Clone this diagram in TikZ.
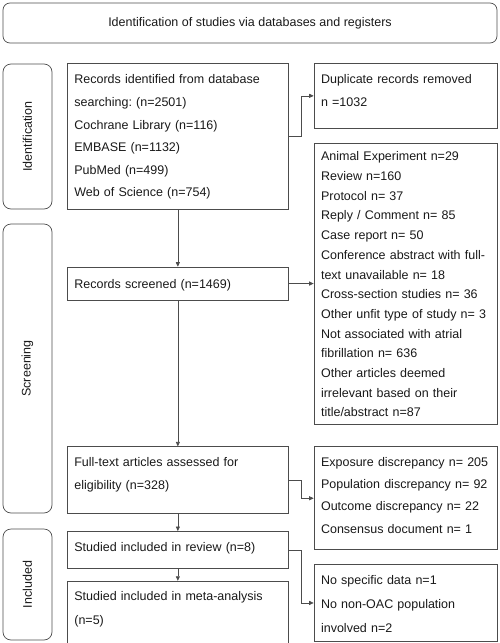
\documentclass[tikz,border=0pt]{standalone}
\usepackage{fontspec}
\setmainfont{Liberation Sans}
\usepackage{tikz}
\usetikzlibrary{arrows.meta, positioning}
\frenchspacing

\begin{document}
\begin{tikzpicture}[
    x=1pt, y=1pt,
    every node/.style={text=black!90},
    header/.style={rectangle, draw=black!70, line width=0.7pt, rounded corners=7pt,
                  minimum width=494pt, minimum height=40pt, font=\fontsize{12.5}{15}\selectfont},
    stage/.style={rectangle, draw=black!70, line width=0.7pt, rounded corners=8pt, rotate=90,
                  minimum height=49pt, inner sep=0pt, font=\fontsize{12.5}{15}\selectfont},
    box/.style={rectangle, draw=black!70, line width=0.7pt, inner xsep=7pt, inner ysep=0pt,
                align=left, font=\fontsize{12.5}{23}\selectfont},
    mainbox/.style={box, text width=207pt},
    exclbox/.style={box, text width=169pt},
    arrow/.style={-{Triangle[length=4.5pt, width=4pt]}, draw=black!70, line width=0.7pt},
]
\useasboundingbox (0,0) rectangle (500,-643);

% Header
\node[header] (head) at (250,-23) {Identification of studies via databases and registers};

% Stages
\node[stage, minimum width=145pt] (sident) at (27.5,-136.5) {Identification};
\node[stage, minimum width=289pt] (sscreen) at (27.5,-368.5) {Screening};
\node[stage, minimum width=111pt] (sincl) at (27.5,-584.5) {Included};

% Main column
\node[mainbox, anchor=north west, text height=20.5pt, text depth=125.5pt,
      font=\fontsize{12.5}{22.6}\selectfont] (ident) at (67,-63)
      {Records identified from database\\searching: (n=2501)\\Cochrane Library (n=116)\\EMBASE (n=1132)\\PubMed (n=499)\\Web of Science (n=754)};
\node[mainbox, below=57pt of ident, text height=21.5pt, text depth=11.5pt] (screen)
      {Records screened (n=1469)};
\node[mainbox, below=146pt of screen, text height=19.5pt, text depth=47.5pt] (full)
      {Full-text articles assessed for\\eligibility (n=328)};
\node[mainbox, below=17pt of full, text height=20.5pt, text depth=16.5pt] (review)
      {Studied included in review (n=8)};
\node[mainbox, below=12pt of review, text height=19.5pt, text depth=42.5pt,
      font=\fontsize{12.5}{23.7}\selectfont] (meta)
      {Studied included in meta-analysis\\(n=5)};

% Excluded column
\node[exclbox, below right=0pt and 25pt of ident.north east, text height=20.5pt, text depth=44.5pt] (dup)
      {Duplicate records removed\\n =1032};
\node[exclbox, below=14pt of dup, text height=17.8pt, text depth=263.2pt,
      font=\fontsize{12.5}{19.7}\selectfont] (excl1)
      {Animal Experiment n=29\\Review n=160\\Protocol n= 37\\Reply / Comment n= 85\\Case report n= 50\\Conference abstract with full-\\text unavailable n= 18\\Cross-section studies n= 36\\Other unfit type of study n= 3\\Not associated with atrial\\fibrillation n= 636\\Other articles deemed\\irrelevant based on their\\title/abstract n=87};
\node[exclbox, below right=0pt and 25pt of full.north east, text height=19.5pt, text depth=83.5pt,
      font=\fontsize{12.5}{22.3}\selectfont] (excl2)
      {Exposure discrepancy n= 205\\Population discrepancy n= 92\\Outcome discrepancy n= 22\\Consensus document n= 1};
\node[exclbox, below=14pt of excl2, text height=20.5pt, text depth=56.5pt,
      font=\fontsize{12.5}{23.7}\selectfont] (excl3)
      {No specific data n=1\\No non-OAC population\\involved n=2};

% Arrows down
\draw[arrow] (ident) -- (screen);
\draw[arrow] (screen) -- (full);
\draw[arrow] (full) -- (review);
\draw[arrow] (review) -- (meta);

% Arrows right
\draw[arrow] (ident.east) -- ++(13pt,0) |- (dup.west);
\draw[arrow] (screen) -- (excl1);
\draw[arrow] (full.east) -- ++(13pt,0) |- (excl2.west);
\draw[arrow] (review.east) -- ++(13pt,0) |- (excl3.west);

\end{tikzpicture}
\end{document}
